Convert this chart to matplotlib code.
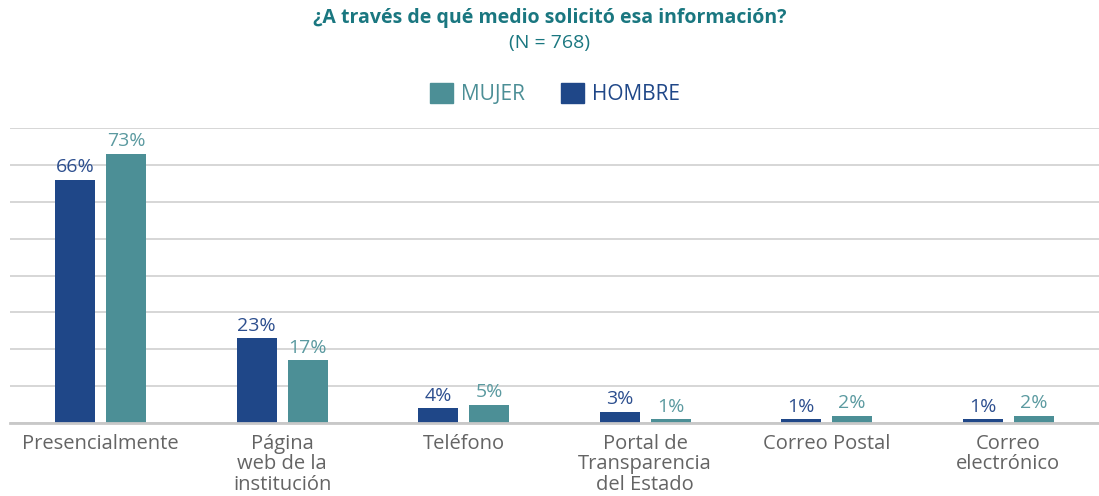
import numpy as np
import matplotlib.pyplot as plt
from matplotlib.patches import Patch

plt.rcParams['font.family'] = ['Open Sans', 'DejaVu Sans']

categorias = ["Presencialmente", "Página\nweb de la\ninstitución", "Teléfono",
              "Portal de\nTransparencia\ndel Estado", "Correo Postal", "Correo\nelectrónico"]
hombre = [66, 23, 4, 3, 1, 1]
mujer = [73, 17, 5, 1, 2, 2]

c_hombre = '#1F4788'
c_mujer = '#4C8F96'
c_titulo = '#1A7780'

fig = plt.figure(figsize=(10.99, 4.96), dpi=100)
ax = fig.add_axes([0.009, 0.147, 0.991, 0.595])

x = np.arange(len(categorias))
w = 0.22
b1 = ax.bar(x - 0.14, hombre, w, color=c_hombre, zorder=3)
b2 = ax.bar(x + 0.14, mujer, w, color=c_mujer, zorder=3)

for rect, v in zip(b1, hombre):
    ax.text(rect.get_x() + rect.get_width() / 2, v + 1.0, f"{v}%", ha='center', va='bottom',
            fontsize=14, color='#2D4F8F')
for rect, v in zip(b2, mujer):
    ax.text(rect.get_x() + rect.get_width() / 2, v + 1.0, f"{v}%", ha='center', va='bottom',
            fontsize=14, color='#5B9AA0')

ax.set_xlim(-0.5, len(categorias) - 0.5)
ax.set_ylim(0, 80)
ax.set_yticks(np.arange(0, 81, 10))
ax.yaxis.grid(True, color='#D0D0D0', linewidth=1.2, zorder=0)
ax.tick_params(axis='y', left=False, labelleft=False)
ax.tick_params(axis='x', length=0, pad=8)
ax.set_xticks(x)
ax.set_xticklabels(categorias, fontsize=14.5, color='#646464', linespacing=1.02)
for s in ['top', 'right', 'left']:
    ax.spines[s].set_visible(False)
ax.spines['bottom'].set_color('#C8C8C8')
ax.spines['bottom'].set_linewidth(2)
ax.spines['bottom'].set_zorder(4)

fig.text(0.5, 0.963, "¿A través de qué medio solicitó esa información?", ha='center', va='center',
         fontsize=14, fontweight='bold', color=c_titulo)
fig.text(0.5, 0.913, "(N = 768)", ha='center', va='center', fontsize=14, color=c_titulo)

handles = [Patch(color=c_mujer), Patch(color=c_hombre)]
leg = fig.legend(handles, ["MUJER", "HOMBRE"], loc='center', bbox_to_anchor=(0.505, 0.81), ncol=2,
                 frameon=False, fontsize=15, handlelength=1.1, handleheight=1.1,
                 handletextpad=0.4, columnspacing=1.7)
leg.get_texts()[0].set_color(c_mujer)
leg.get_texts()[1].set_color(c_hombre)

fig.savefig('out.png', dpi=100)
